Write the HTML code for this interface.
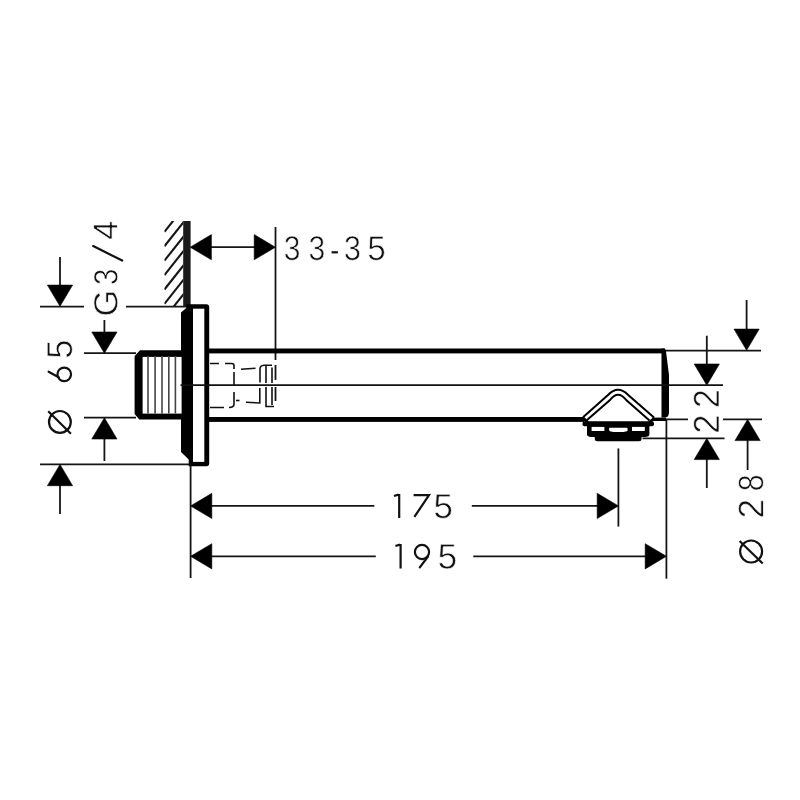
<!DOCTYPE html>
<html><head><meta charset="utf-8">
<style>
html,body{margin:0;padding:0;background:#fff;}
svg{display:block;}
</style></head>
<body>
<svg width="800" height="800" viewBox="0 0 800 800">
<defs>
<clipPath id="hc"><rect x="164.4" y="221" width="18.8" height="85.5"/></clipPath>
</defs>
<rect width="800" height="800" fill="#fff"/>
<g stroke="#151515" fill="none" stroke-width="1.8">
<g clip-path="url(#hc)" stroke-width="2.1">
<line x1="164.4" y1="231.9" x2="190" y2="199.6"/>
<line x1="164.4" y1="246.3" x2="190" y2="214"/>
<line x1="164.4" y1="260.7" x2="190" y2="228.4"/>
<line x1="164.4" y1="275.1" x2="190" y2="242.8"/>
<line x1="164.4" y1="289.5" x2="190" y2="257.2"/>
<line x1="164.4" y1="303.9" x2="190" y2="271.6"/>
<line x1="164.4" y1="318.3" x2="190" y2="286"/>
</g>
<line x1="40" y1="306.7" x2="84" y2="306.7"/>
<line x1="126" y1="306.7" x2="187" y2="306.7"/>
<line x1="84" y1="353.2" x2="136" y2="353.2"/>
<line x1="84" y1="417.7" x2="136" y2="417.7"/>
<line x1="40" y1="464.4" x2="189" y2="464.4"/>
<line x1="210" y1="247.2" x2="255" y2="247.2"/>
<line x1="275.5" y1="227" x2="275.5" y2="360"/>
<line x1="275.5" y1="365" x2="275.5" y2="380"/>
<line x1="275.5" y1="387" x2="275.5" y2="401"/>
<line x1="60" y1="257" x2="60" y2="287"/>
<line x1="104.4" y1="320" x2="104.4" y2="333"/>
<line x1="104.4" y1="438" x2="104.4" y2="461"/>
<line x1="60" y1="485" x2="60" y2="514"/>
<line x1="665" y1="350.6" x2="761" y2="350.6"/>
<line x1="655" y1="419.4" x2="688" y2="419.4"/>
<line x1="723" y1="419.4" x2="762" y2="419.4"/>
<line x1="642.5" y1="438.3" x2="724.5" y2="438.3"/>
<line x1="746.6" y1="300" x2="746.6" y2="330"/>
<line x1="706.8" y1="335.7" x2="706.8" y2="365"/>
<line x1="706.8" y1="458" x2="706.8" y2="488"/>
<line x1="747.6" y1="440" x2="747.6" y2="470"/>
<line x1="190.6" y1="466" x2="190.6" y2="578"/>
<line x1="618.4" y1="448.4" x2="618.4" y2="526.6"/>
<line x1="666.4" y1="420" x2="666.4" y2="578.7"/>
<line x1="210" y1="505.9" x2="374.3" y2="505.9"/>
<line x1="471.8" y1="505.9" x2="599" y2="505.9"/>
<line x1="210" y1="556.3" x2="375.8" y2="556.3"/>
<line x1="473.3" y1="556.3" x2="647" y2="556.3"/>
</g>
<g fill="#000" stroke="#000" stroke-width="0.6" stroke-linejoin="round">
<polygon points="190.2,247.2 211.4,234.6 211.4,259.8"/>
<polygon points="275.4,247.2 254.2,234.6 254.2,259.8"/>
<polygon points="60.0,306.3 47.4,285.1 72.6,285.1"/>
<polygon points="104.4,353.2 91.8,332.0 117.0,332.0"/>
<polygon points="104.4,417.8 91.8,439.0 117.0,439.0"/>
<polygon points="60.0,464.5 47.4,485.7 72.6,485.7"/>
<polygon points="746.6,350.3 734.0,329.1 759.2,329.1"/>
<polygon points="706.8,385.2 694.2,364.0 719.4,364.0"/>
<polygon points="706.8,438.4 694.2,459.6 719.4,459.6"/>
<polygon points="747.6,419.4 735.0,440.6 760.2,440.6"/>
<polygon points="190.6,505.9 211.8,493.3 211.8,518.5"/>
<polygon points="618.4,505.9 597.2,493.3 597.2,518.5"/>
<polygon points="190.6,556.3 211.8,543.7 211.8,568.9"/>
<polygon points="666.4,556.3 645.2,543.7 645.2,568.9"/>
</g>
<rect x="183.2" y="221" width="7.4" height="86" fill="#1a1a1a"/>
<path d="M186.3,304.2 H206.4 Q209.2,304.2 209.2,307 V463.5 Q209.2,466.2 206.4,466.2 H188.7 V459.4 L181,452 V312.5 L186.3,308 Z" fill="#000"/>
<rect x="193" y="308.7" width="11.3" height="153.2" fill="#fff"/>
<path d="M140,350.3 H181.5 V419.4 H139.3 L134.6,414 V356 Z" fill="#000"/>
<rect x="142.6" y="356.9" width="39" height="56.7" fill="#fff"/>
<g stroke="#444" stroke-width="1.6">
<line x1="148" y1="356" x2="148" y2="413.5"/>
<line x1="155.1" y1="356" x2="155.1" y2="413.5"/>
<line x1="162" y1="356" x2="162" y2="413.5"/>
<line x1="168.8" y1="356" x2="168.8" y2="413.5"/>
<line x1="175.4" y1="356" x2="175.4" y2="413.5"/>
</g>
<rect x="208" y="348.5" width="457" height="4.9" fill="#000"/>
<rect x="208" y="417" width="376" height="4.9" fill="#000"/>
<rect x="652" y="417.6" width="14" height="3.4" fill="#000"/>
<path d="M661.5,348.6 H664 Q665.8,348.8 666,351.5 L669,375 V412 Q669,417.4 665.5,417.4 H661.5 Z" fill="#000"/>
<line x1="180.6" y1="385.1" x2="723" y2="385.1" stroke="#111" stroke-width="1.9"/>
<!-- internal hidden lines -->
<g stroke="#111" stroke-width="1.6" fill="none">
<path d="M210,363.5 H219 M225,363.5 H232 Q234,363.5 234,366 V369 M234,372 V385"/>
<path d="M210,407.5 H224 M229,407.5 Q234,407.5 234,404 V392"/>
<path d="M236,400.5 H239.5"/>
<path d="M241,369.2 L255.5,368.3"/>
<path d="M246,402.3 L259.8,403 V388"/>
<path d="M260,382.5 V369 Q260,365.5 264,365.2 H272"/>
<path d="M266,366 V383 M266,387 V406.5 H274"/>
<path d="M272,367.5 V383 M272,387 V405"/>
</g>
<!-- aerator -->
<g fill="none" stroke="#000" stroke-width="2">
<path d="M583,417.2 L608,395 Q618.1,384.5 628.2,395 L654,417.6"/>
<path d="M587,420 L610,400 Q618.1,389.5 626.2,400 L649.5,420.5"/>
</g>
<path d="M581.8,418.2 L583.6,416.6 L588.8,421.2 L586,423 Z M655.2,418.4 L653.6,416.9 L648.4,421.2 L651,423 Z" fill="#000"/>
<path d="M584.5,421.2 H652 Q654,421.2 654,423.5 V424.5 Q654,426.3 650.5,426.3 H649.4 V434.5 Q649.4,436.9 645,436.9 H641.6 V439 Q641.6,441.25 639,441.25 H597.3 Q594.75,441.25 594.75,439 V436.9 H591.5 Q587,436.9 587,434.5 V426.3 H585.8 Q582.5,426.3 582.5,424.5 V423.5 Q582.5,421.2 584.5,421.2 Z" fill="#000"/>
<g fill="#fff">
<rect x="591.6" y="426.9" width="12.8" height="4.1"/>
<path d="M609.6,427.8 H626.8 Q627.6,427.8 627.6,429 V430.3 C627.3,431.9 623,432.1 618.4,432.1 C613.8,432.1 609.3,431.9 609.1,430.3 V429 Q609.1,427.8 609.6,427.8 Z"/>
<rect x="632" y="426.9" width="12.8" height="4.1"/>
</g>
<!-- diameter symbols -->
<g stroke="#111" stroke-width="2.2" fill="none">
<circle cx="59.9" cy="421.9" r="10.9"/>
<line x1="48.2" y1="411.2" x2="70.9" y2="433.7"/>
<circle cx="751.1" cy="551.5" r="11"/>
<line x1="739.6" y1="541" x2="762.7" y2="563.5"/>
</g>
<!-- digit 7 9 -->
<g stroke="#111" stroke-width="2.2" fill="none" stroke-linecap="round" stroke-linejoin="miter">
<path d="M413.6,495.1 H429 L414.4,516.9" stroke-linecap="butt"/>
<circle cx="422" cy="552" r="7.1"/>
<path d="M428,556.5 L419.8,567.4"/>
</g>
<g stroke="#111" stroke-width="2.2" fill="none" stroke-linecap="round">
<circle cx="64.25" cy="374.35" r="6.8"/>
<path d="M48.6,371.7 L58.6,377.2"/>
</g>
<line x1="331.6" y1="252.3" x2="337.9" y2="252.3" stroke="#111" stroke-width="2.2"/>
<!-- digit 1 -->
<g stroke="#111" stroke-width="2.2" fill="none" stroke-linecap="butt">
<path d="M394,496 L398.5,494.6 M399.2,494.1 V518"/>
<path d="M395.4,546 L399.9,544.6 M400.6,544.1 V568.5"/>
</g>
<line x1="93.2" y1="246.1" x2="122.2" y2="260.6" stroke="#111" stroke-width="2.2" stroke-linecap="round"/>

<g fill="#111" stroke="#fff" stroke-width="0.8" vector-effect="non-scaling-stroke">
<path vector-effect="non-scaling-stroke" transform="matrix(0.01473,0.00000,0.00000,-0.01683,283.70129,260.06345)" d="M1049 389Q1049 194 925.0 87.0Q801 -20 571 -20Q357 -20 229.5 76.5Q102 173 78 362L264 379Q300 129 571 129Q707 129 784.5 196.0Q862 263 862 395Q862 510 773.5 574.5Q685 639 518 639H416V795H514Q662 795 743.5 859.5Q825 924 825 1038Q825 1151 758.5 1216.5Q692 1282 561 1282Q442 1282 368.5 1221.0Q295 1160 283 1049L102 1063Q122 1236 245.5 1333.0Q369 1430 563 1430Q775 1430 892.5 1331.5Q1010 1233 1010 1057Q1010 922 934.5 837.5Q859 753 715 723V719Q873 702 961.0 613.0Q1049 524 1049 389Z"/>
<path vector-effect="non-scaling-stroke" transform="matrix(0.01473,0.00000,0.00000,-0.01683,308.45129,260.06345)" d="M1049 389Q1049 194 925.0 87.0Q801 -20 571 -20Q357 -20 229.5 76.5Q102 173 78 362L264 379Q300 129 571 129Q707 129 784.5 196.0Q862 263 862 395Q862 510 773.5 574.5Q685 639 518 639H416V795H514Q662 795 743.5 859.5Q825 924 825 1038Q825 1151 758.5 1216.5Q692 1282 561 1282Q442 1282 368.5 1221.0Q295 1160 283 1049L102 1063Q122 1236 245.5 1333.0Q369 1430 563 1430Q775 1430 892.5 1331.5Q1010 1233 1010 1057Q1010 922 934.5 837.5Q859 753 715 723V719Q873 702 961.0 613.0Q1049 524 1049 389Z"/>
<path vector-effect="non-scaling-stroke" transform="matrix(0.01509,0.00000,0.00000,-0.01683,343.82317,260.06345)" d="M1049 389Q1049 194 925.0 87.0Q801 -20 571 -20Q357 -20 229.5 76.5Q102 173 78 362L264 379Q300 129 571 129Q707 129 784.5 196.0Q862 263 862 395Q862 510 773.5 574.5Q685 639 518 639H416V795H514Q662 795 743.5 859.5Q825 924 825 1038Q825 1151 758.5 1216.5Q692 1282 561 1282Q442 1282 368.5 1221.0Q295 1160 283 1049L102 1063Q122 1236 245.5 1333.0Q369 1430 563 1430Q775 1430 892.5 1331.5Q1010 1233 1010 1057Q1010 922 934.5 837.5Q859 753 715 723V719Q873 702 961.0 613.0Q1049 524 1049 389Z"/>
<path vector-effect="non-scaling-stroke" transform="matrix(0.01627,0.00000,0.00000,-0.01683,367.26571,260.06340)" d="M1053 459Q1053 236 920.5 108.0Q788 -20 553 -20Q356 -20 235.0 66.0Q114 152 82 315L264 336Q321 127 557 127Q702 127 784.0 214.5Q866 302 866 455Q866 588 783.5 670.0Q701 752 561 752Q488 752 425.0 729.0Q362 706 299 651H123L170 1409H971V1256H334L307 809Q424 899 598 899Q806 899 929.5 777.0Q1053 655 1053 459Z"/>
<path vector-effect="non-scaling-stroke" transform="matrix(0.01720,0.00000,0.00000,-0.01693,433.38970,518.06130)" d="M1053 459Q1053 236 920.5 108.0Q788 -20 553 -20Q356 -20 235.0 66.0Q114 152 82 315L264 336Q321 127 557 127Q702 127 784.0 214.5Q866 302 866 455Q866 588 783.5 670.0Q701 752 561 752Q488 752 425.0 729.0Q362 706 299 651H123L170 1409H971V1256H334L307 809Q424 899 598 899Q806 899 929.5 777.0Q1053 655 1053 459Z"/>
<path vector-effect="non-scaling-stroke" transform="matrix(0.01720,0.00000,0.00000,-0.01728,437.58970,568.55430)" d="M1053 459Q1053 236 920.5 108.0Q788 -20 553 -20Q356 -20 235.0 66.0Q114 152 82 315L264 336Q321 127 557 127Q702 127 784.0 214.5Q866 302 866 455Q866 588 783.5 670.0Q701 752 561 752Q488 752 425.0 729.0Q362 706 299 651H123L170 1409H971V1256H334L307 809Q424 899 598 899Q806 899 929.5 777.0Q1053 655 1053 459Z"/>
<path vector-effect="non-scaling-stroke" transform="matrix(0.00000,-0.01683,-0.01648,0.00000,117.47034,316.53336)" d="M103 711Q103 1054 287.0 1242.0Q471 1430 804 1430Q1038 1430 1184.0 1351.0Q1330 1272 1409 1098L1227 1044Q1167 1164 1061.5 1219.0Q956 1274 799 1274Q555 1274 426.0 1126.5Q297 979 297 711Q297 444 434.0 289.5Q571 135 813 135Q951 135 1070.5 177.0Q1190 219 1264 291V545H843V705H1440V219Q1328 105 1165.5 42.5Q1003 -20 813 -20Q592 -20 432.0 68.0Q272 156 187.5 321.5Q103 487 103 711Z"/>
<path vector-effect="non-scaling-stroke" transform="matrix(0.00000,-0.01452,-0.01648,0.00000,117.47034,285.13265)" d="M1049 389Q1049 194 925.0 87.0Q801 -20 571 -20Q357 -20 229.5 76.5Q102 173 78 362L264 379Q300 129 571 129Q707 129 784.5 196.0Q862 263 862 395Q862 510 773.5 574.5Q685 639 518 639H416V795H514Q662 795 743.5 859.5Q825 924 825 1038Q825 1151 758.5 1216.5Q692 1282 561 1282Q442 1282 368.5 1221.0Q295 1160 283 1049L102 1063Q122 1236 245.5 1333.0Q369 1430 563 1430Q775 1430 892.5 1331.5Q1010 1233 1010 1057Q1010 922 934.5 837.5Q859 753 715 723V719Q873 702 961.0 613.0Q1049 524 1049 389Z"/>
<path vector-effect="non-scaling-stroke" transform="matrix(0.00000,-0.01676,-0.01703,0.00000,117.50000,239.78789)" d="M881 319V0H711V319H47V459L692 1409H881V461H1079V319ZM711 1206Q709 1200 683.0 1153.0Q657 1106 644 1087L283 555L229 481L213 461H711Z"/>
<path vector-effect="non-scaling-stroke" transform="matrix(0.00000,-0.01679,-0.01763,0.00000,72.04731,358.77652)" d="M1053 459Q1053 236 920.5 108.0Q788 -20 553 -20Q356 -20 235.0 66.0Q114 152 82 315L264 336Q321 127 557 127Q702 127 784.0 214.5Q866 302 866 455Q866 588 783.5 670.0Q701 752 561 752Q488 752 425.0 729.0Q362 706 299 651H123L170 1409H971V1256H334L307 809Q424 899 598 899Q806 899 929.5 777.0Q1053 655 1053 459Z"/>
<path vector-effect="non-scaling-stroke" transform="matrix(0.00000,-0.01693,-0.01783,0.00000,719.00000,433.74427)" d="M103 0V127Q154 244 227.5 333.5Q301 423 382.0 495.5Q463 568 542.5 630.0Q622 692 686.0 754.0Q750 816 789.5 884.0Q829 952 829 1038Q829 1154 761.0 1218.0Q693 1282 572 1282Q457 1282 382.5 1219.5Q308 1157 295 1044L111 1061Q131 1230 254.5 1330.0Q378 1430 572 1430Q785 1430 899.5 1329.5Q1014 1229 1014 1044Q1014 962 976.5 881.0Q939 800 865.0 719.0Q791 638 582 468Q467 374 399.0 298.5Q331 223 301 153H1036V0Z"/>
<path vector-effect="non-scaling-stroke" transform="matrix(0.00000,-0.01661,-0.01783,0.00000,719.00000,408.11115)" d="M103 0V127Q154 244 227.5 333.5Q301 423 382.0 495.5Q463 568 542.5 630.0Q622 692 686.0 754.0Q750 816 789.5 884.0Q829 952 829 1038Q829 1154 761.0 1218.0Q693 1282 572 1282Q457 1282 382.5 1219.5Q308 1157 295 1044L111 1061Q131 1230 254.5 1330.0Q378 1430 572 1430Q785 1430 899.5 1329.5Q1014 1229 1014 1044Q1014 962 976.5 881.0Q939 800 865.0 719.0Q791 638 582 468Q467 374 399.0 298.5Q331 223 301 153H1036V0Z"/>
<path vector-effect="non-scaling-stroke" transform="matrix(0.00000,-0.01715,-0.01755,0.00000,763.50000,518.46635)" d="M103 0V127Q154 244 227.5 333.5Q301 423 382.0 495.5Q463 568 542.5 630.0Q622 692 686.0 754.0Q750 816 789.5 884.0Q829 952 829 1038Q829 1154 761.0 1218.0Q693 1282 572 1282Q457 1282 382.5 1219.5Q308 1157 295 1044L111 1061Q131 1230 254.5 1330.0Q378 1430 572 1430Q785 1430 899.5 1329.5Q1014 1229 1014 1044Q1014 962 976.5 881.0Q939 800 865.0 719.0Q791 638 582 468Q467 374 399.0 298.5Q331 223 301 153H1036V0Z"/>
<path vector-effect="non-scaling-stroke" transform="matrix(0.00000,-0.01488,-0.01731,0.00000,763.15379,491.32435)" d="M1050 393Q1050 198 926.0 89.0Q802 -20 570 -20Q344 -20 216.5 87.0Q89 194 89 391Q89 529 168.0 623.0Q247 717 370 737V741Q255 768 188.5 858.0Q122 948 122 1069Q122 1230 242.5 1330.0Q363 1430 566 1430Q774 1430 894.5 1332.0Q1015 1234 1015 1067Q1015 946 948.0 856.0Q881 766 765 743V739Q900 717 975.0 624.5Q1050 532 1050 393ZM828 1057Q828 1296 566 1296Q439 1296 372.5 1236.0Q306 1176 306 1057Q306 936 374.5 872.5Q443 809 568 809Q695 809 761.5 867.5Q828 926 828 1057ZM863 410Q863 541 785.0 607.5Q707 674 566 674Q429 674 352.0 602.5Q275 531 275 406Q275 115 572 115Q719 115 791.0 185.5Q863 256 863 410Z"/>
</g>
</svg>
</body></html>
